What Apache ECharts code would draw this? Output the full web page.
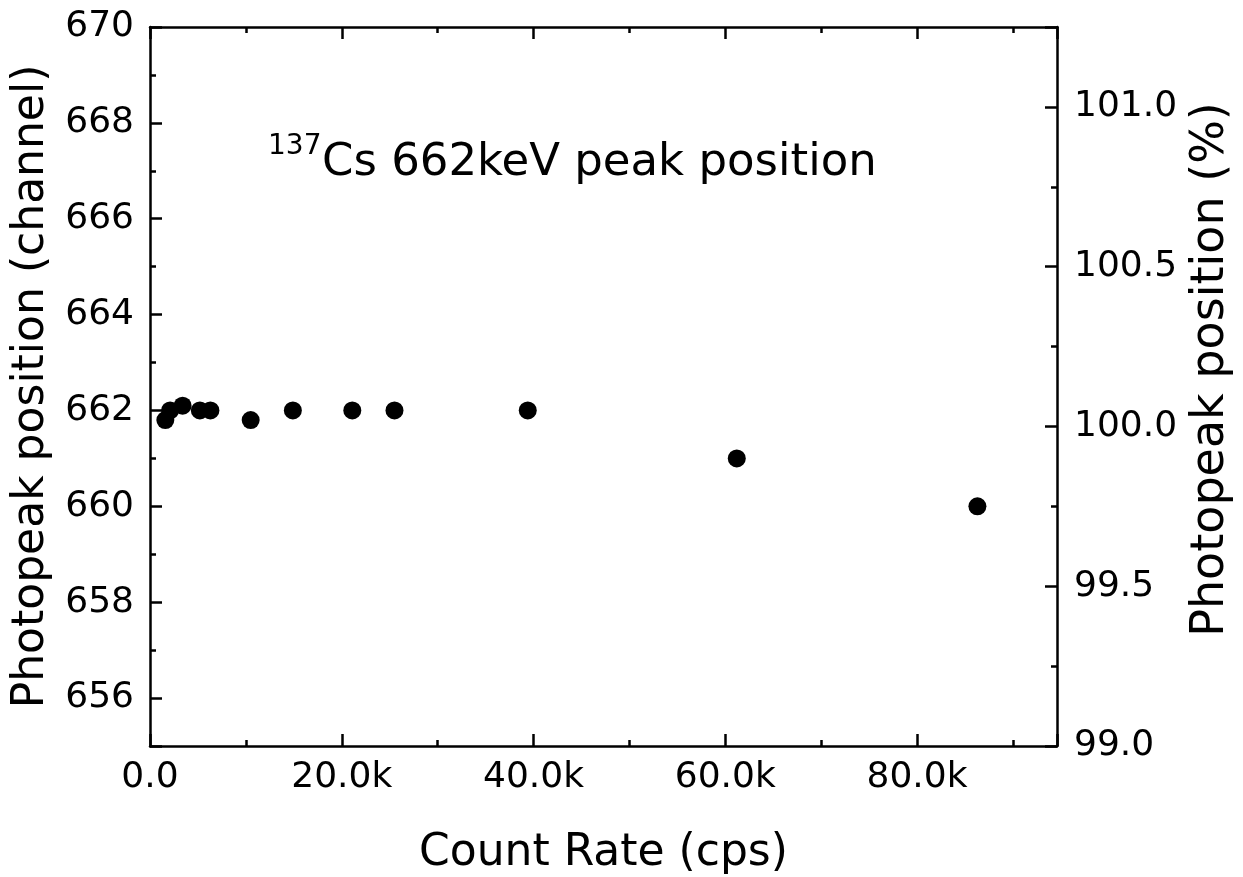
<!DOCTYPE html>
<html><head><meta charset="utf-8">
<script src="https://cdn.jsdelivr.net/npm/echarts@6/dist/echarts.min.js"></script>
<style>html,body{margin:0;padding:0;background:#fff}#c{width:1243px;height:877px}</style>
</head><body><div id="c"></div>
<script>
// Data
const countRate = [1600, 2100, 3400, 5200, 6300, 10500, 14900, 21100, 25500, 39400, 61200, 86300];
const peakChannel = [661.8, 662.0, 662.1, 662.0, 662.0, 661.8, 662.0, 662.0, 662.0, 662.0, 661.0, 660.0];
const xRange = [0, 94600];
const channelRange = [655, 670];
const percentRange = [99.0, 101.25];
const xTitle = 'Count Rate (cps)';
const leftTitle = 'Photopeak position (channel)';
const rightTitle = 'Photopeak position (%)';
const noteSup = '137';
const noteMain = 'Cs 662keV peak position';

const FONT = 'DejaVu Sans';
const BLACK = '#000';
const lineS = {color: BLACK, width: 2.5};

function baseAxis() {
  return {
    axisLine: {show: true, onZero: false, lineStyle: lineS},
    axisTick: {show: true, inside: true, length: 12, lineStyle: {color: BLACK, width: 2.5}},
    minorTick: {show: true, splitNumber: 2, length: 6, lineStyle: {color: BLACK, width: 2.5}},
    splitLine: {show: false},
    minorSplitLine: {show: false}
  };
}

const data = countRate.map((x, i) => [x, peakChannel[i]]);
const chart = echarts.init(document.getElementById('c'), null, {renderer: 'canvas'});
chart.setOption({
  animation: false,
  backgroundColor: '#fff',
  textStyle: {fontFamily: FONT},
  grid: {left: 150, right: 186, top: 27, bottom: 131, containLabel: false, outerBoundsMode: 'none'},
  xAxis: [
    Object.assign(baseAxis(), {
      type: 'value', position: 'bottom', min: xRange[0], max: xRange[1], interval: 20000,
      axisLabel: {show: true, color: BLACK, fontSize: 36, fontFamily: FONT, margin: 14,
        formatter: v => (v % 20000 !== 0) ? '' : (v === 0 ? '0.0' : (v / 1000).toFixed(1) + 'k')},
      name: xTitle, nameLocation: 'middle', nameGap: 86,
      nameTextStyle: {fontSize: 44, color: BLACK, fontFamily: FONT}
    }),
    Object.assign(baseAxis(), {
      type: 'value', position: 'top', min: xRange[0], max: xRange[1], interval: 20000,
      axisLabel: {show: false}
    })
  ],
  yAxis: [
    Object.assign(baseAxis(), {
      type: 'value', position: 'left', min: channelRange[0], max: channelRange[1],
      minInterval: 2, maxInterval: 2, splitNumber: 7,
      axisLabel: {show: true, color: BLACK, fontSize: 36, fontFamily: FONT, margin: 16,
        formatter: v => (Math.round(v) % 2 === 0 && Math.abs(v - Math.round(v)) < 1e-6) ? String(Math.round(v)) : ''},
      name: leftTitle, nameLocation: 'middle', nameGap: 96, nameRotate: 90,
      nameTextStyle: {fontSize: 44, color: BLACK, fontFamily: FONT}
    }),
    Object.assign(baseAxis(), {
      type: 'value', position: 'right', min: percentRange[0], max: percentRange[1], interval: 0.5,
      axisLabel: {show: true, color: BLACK, fontSize: 36, fontFamily: FONT, margin: 17,
        formatter: v => (Math.abs(v * 2 - Math.round(v * 2)) < 1e-6) ? v.toFixed(1) : ''},
      name: rightTitle, nameLocation: 'middle', nameGap: 130, nameRotate: 90,
      nameTextStyle: {fontSize: 46, color: BLACK, fontFamily: FONT, padding: [0, 0, 0, 34]}
    })
  ],
  graphic: [
    {type: 'text', left: 268, top: 133, silent: true,
      style: {text: noteSup, fontSize: 28, fontFamily: FONT, fill: BLACK}},
    {type: 'text', left: 322, top: 141, silent: true,
      style: {text: noteMain, fontSize: 45, fontFamily: FONT, fill: BLACK}}
  ],
  series: [{
    type: 'scatter', xAxisIndex: 0, yAxisIndex: 0, data: data,
    symbol: 'circle', symbolSize: 18,
    itemStyle: {color: BLACK, opacity: 1}
  }]
});
</script></body></html>
